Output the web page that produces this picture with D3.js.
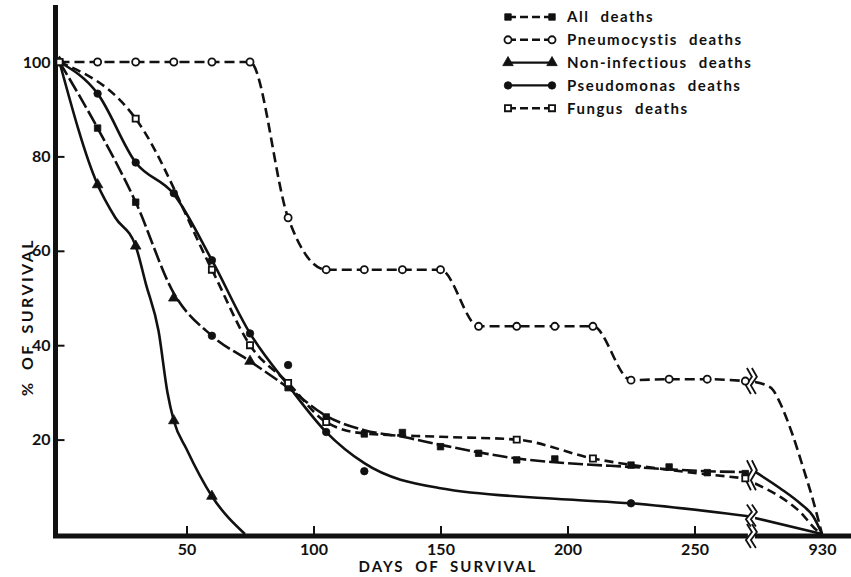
<!DOCTYPE html>
<html>
<head>
<meta charset="utf-8">
<script src="https://cdn.jsdelivr.net/npm/d3@7"></script>
<style>
  body { margin: 0; background: #fff; }
  text { font-family: Lato, "DejaVu Sans", sans-serif; font-weight: bold; fill: #111; }
</style>
</head>
<body>
<svg id="chart" width="851" height="577"></svg>
<script>
// ---- data (days, % surviving) ----
var xTicks = [50, 100, 150, 200, 250, 930];
var yTicks = [20, 40, 60, 80, 100];

// All deaths
var allDays = [0, 15, 30, 45, 60, 75, 90, 105, 120, 135, 150, 165, 180, 195, 225, 240, 255, 270];
var allPct = [100, 86, 70.3, 50, 42, 36.6, 31, 24.8, 21.2, 21.5, 18.5, 17.1, 15.7, 15.9, 14.6, 14.2, 13.0, 12.8];
var allShapes = ["square", "square", "square", "triangle", "circle", "triangle", "square", "square", "square",
  "square", "square", "square", "square", "square", "square", "square", "square", "square"];
var allCurveDays = [0, 15, 30, 45, 60, 75, 90, 105, 120, 135, 150, 165, 180, 195, 225, 255, 272];
var allCurvePct = [100, 86, 70.3, 51, 42, 36.6, 31, 25, 22, 20.6, 18.9, 17.3, 16, 15.2, 14.2, 13.3, 13.1];
var allTailDays = [314, 544, 728, 850, 930];
var allTailPct = [13.2, 9.7, 6.5, 3.7, 0];

// Pneumocystis deaths
var pneumoDays = [0, 15, 30, 45, 60, 75, 90, 105, 120, 135, 150, 165, 180, 195, 210, 225, 240, 255, 270];
var pneumoPct = [100, 100, 100, 100, 100, 100, 67, 56, 56, 56, 56, 44, 44, 44, 44, 32.6, 32.8, 32.8, 32.4];
var pneumoTailDays = [314, 406, 480, 544, 654, 755, 847, 930];
var pneumoTailPct = [32.2, 31.6, 30.5, 27.8, 21.4, 14.2, 7.2, 0];

// Non-infectious deaths
var nonInfDays = [0, 15, 30, 45, 60];
var nonInfPct = [100, 74, 61, 24, 8];
var nonInfCurveDays = [0, 15, 22, 30, 34, 39, 42.5, 45, 50, 60, 73];
var nonInfCurvePct = [100, 74, 67, 61, 53, 43, 30, 24, 18, 8, 0];

// Pseudomonas deaths
var pseudoDays = [0, 15, 30, 45, 60, 75, 90, 105, 120, 225];
var pseudoPct = [100, 93.3, 78.7, 72.2, 58, 42.5, 35.8, 21.6, 13.3, 6.5];
var pseudoCurveDays = [0, 15, 30, 45, 60, 75, 90, 105, 120, 150, 200, 225, 272];
var pseudoCurvePct = [100, 93.3, 78.7, 72, 58, 42.5, 31.5, 21.6, 15, 9.7, 7.3, 6.5, 3.7];
var pseudoTailDays = [314, 930];
var pseudoTailPct = [3.4, 0];

// Fungus deaths
var fungusDays = [0, 30, 60, 75, 90, 105, 180, 210, 270];
var fungusPct = [100, 88, 56, 40, 32, 23.7, 20, 16, 11.8];
var fungusCurveDays = [0, 30, 60, 75, 90, 105, 120, 150, 180, 210, 240, 270];
var fungusCurvePct = [100, 88, 56, 40, 32, 23.7, 21.3, 20.6, 20, 16, 13.6, 11.8];
var fungusTailDays = [314, 544, 728, 881, 930];
var fungusTailPct = [10.7, 7.9, 4.7, 0.8, 0];

function pairs(a, b) { return a.map(function (v, i) { return [v, b[i]]; }); }

var svg = d3.select("#chart");

// broken x axis: 0..272 linear, then a squeezed piece up to 930
var x = d3.scaleLinear().domain([0, 272, 930]).range([59.5, 750.4, 822]);
var y = d3.scaleLinear().domain([0, 100]).range([534, 62]);

var line = d3.line()
  .x(function (d) { return x(d[0]); })
  .y(function (d) { return y(d[1]); })
  .curve(d3.curveMonotoneX);

var series = [
  { name: "All deaths", curve: pairs(allCurveDays, allCurvePct), tail: pairs(allTailDays, allTailPct),
    marks: pairs(allDays, allPct), shapes: allShapes, shape: "square", open: false, dash: "15,4", tailDash: null },
  { name: "Pneumocystis deaths", curve: pairs(pneumoDays, pneumoPct), tail: pairs(pneumoTailDays, pneumoTailPct),
    marks: pairs(pneumoDays, pneumoPct), shape: "circle", open: true, dash: "10,5", tailDash: "10,5" },
  { name: "Non-infectious deaths", curve: pairs(nonInfCurveDays, nonInfCurvePct), tail: null,
    marks: pairs(nonInfDays, nonInfPct), shape: "triangle", open: false, dash: null },
  { name: "Pseudomonas deaths", curve: pairs(pseudoCurveDays, pseudoCurvePct), tail: pairs(pseudoTailDays, pseudoTailPct),
    marks: pairs(pseudoDays, pseudoPct), shape: "circle", open: false, dash: null, tailDash: null },
  { name: "Fungus deaths", curve: pairs(fungusCurveDays, fungusCurvePct), tail: pairs(fungusTailDays, fungusTailPct),
    marks: pairs(fungusDays, fungusPct), shape: "square", open: true, dash: "9,5", tailDash: "9,5" }
];

var symbolType = { square: d3.symbolSquare, circle: d3.symbolCircle, triangle: d3.symbolTriangle };
var symbolSize = { square: 42, circle: 44, triangle: 48 };

function drawSymbol(g, shape, open, px, py) {
  g.append("path")
    .attr("d", d3.symbol().type(symbolType[shape]).size(open ? symbolSize[shape] * 0.9 : symbolSize[shape])())
    .attr("transform", "translate(" + px + "," + py + ")")
    .attr("fill", open ? "#fff" : "#111")
    .attr("stroke", "#111")
    .attr("stroke-width", open ? 1.8 : 0.8);
}

// axes
var xAxis = d3.axisBottom(x).tickValues(xTicks).tickSizeInner(-10).tickSizeOuter(0).tickPadding(7.5);
var gx = svg.append("g").attr("transform", "translate(0,536)").call(xAxis);
gx.select(".domain").remove();
gx.selectAll(".tick line").attr("stroke", "#111").attr("stroke-width", 2)
  .filter(function (d) { return d > 272; }).remove();
gx.selectAll(".tick text").style("font-size", "16px").attr("fill", "#111");

var yAxis = d3.axisLeft(y).tickValues(yTicks).tickSizeInner(-9).tickSizeOuter(0).tickPadding(5);
var gy = svg.append("g").attr("transform", "translate(55.5,0)").call(yAxis);
gy.select(".domain").remove();
gy.selectAll(".tick line").attr("stroke", "#111").attr("stroke-width", 2);
gy.selectAll(".tick text").style("font-size", "16px").attr("fill", "#111");

svg.append("line").attr("x1", 55.5).attr("x2", 55.5).attr("y1", 5).attr("y2", 538)
  .attr("stroke", "#111").attr("stroke-width", 5);
svg.append("line").attr("x1", 53).attr("x2", 851).attr("y1", 536).attr("y2", 536)
  .attr("stroke", "#111").attr("stroke-width", 5);

svg.append("text").attr("x", 448).attr("y", 572).attr("text-anchor", "middle")
  .style("font-size", "15px").style("letter-spacing", "2px").style("word-spacing", "5px")
  .text("DAYS OF SURVIVAL");
svg.append("text").attr("transform", "translate(33,317) rotate(-90)").attr("text-anchor", "middle")
  .style("font-size", "16px").style("letter-spacing", "2.4px").style("word-spacing", "4px")
  .text("% OF SURVIVAL");

// curves
var lines = svg.append("g").attr("fill", "none").attr("stroke", "#111").attr("stroke-width", 2.6);
series.forEach(function (s) {
  lines.append("path").attr("d", line(s.curve)).attr("stroke-dasharray", s.dash);
  if (s.tail) lines.append("path").attr("d", line(s.tail)).attr("stroke-dasharray", s.tailDash);
});

// break marks on the axis and on the lines
var bx = x(272) + 0.5;
var breaks = [
  { cy: y(pneumoPct[pneumoPct.length - 1]), h: 26 },
  { cy: (y(allCurvePct[allCurvePct.length - 1]) + y(fungusPct[fungusPct.length - 1])) / 2, h: 30 },
  { cy: y(pseudoCurvePct[pseudoCurvePct.length - 1]) - 1, h: 22 },
  { cy: 536, h: 24 }
];
var gb = svg.append("g");
breaks.forEach(function (b) {
  gb.append("rect").attr("x", bx - 3).attr("y", b.cy - b.h / 2 + 3).attr("width", 7).attr("height", b.h - 6).attr("fill", "#fff");
  [0, 5].forEach(function (off) {
    var cx = bx - 2 + off;
    gb.append("path")
      .attr("d", "M" + (cx - 2) + "," + (b.cy - b.h / 2) + "L" + (cx + 3) + "," + (b.cy - b.h / 6) +
        "L" + (cx - 3) + "," + (b.cy + b.h / 6) + "L" + (cx + 2) + "," + (b.cy + b.h / 2))
      .attr("fill", "none").attr("stroke", "#111").attr("stroke-width", 1.8);
  });
});

// markers
var gm = svg.append("g");
series.forEach(function (s) {
  s.marks.forEach(function (d, i) {
    var shape = s.shapes ? s.shapes[i] : s.shape;
    drawSymbol(gm, shape, s.open, x(d[0]), y(d[1]));
  });
});

// legend
var lg = svg.append("g");
series.forEach(function (s, i) {
  var ly = 17 + i * 22.8;
  lg.append("line").attr("x1", 508).attr("x2", 552).attr("y1", ly).attr("y2", ly)
    .attr("stroke", "#111").attr("stroke-width", 2.4).attr("stroke-dasharray", s.dash ? "8,4" : null);
  drawSymbol(lg, s.shape, s.open, 508, ly);
  drawSymbol(lg, s.shape, s.open, 552, ly);
  lg.append("text").attr("x", 567).attr("y", ly).attr("dy", "0.36em")
    .style("font-size", "15px").style("letter-spacing", "1.5px").style("word-spacing", "6px")
    .text(s.name);
});
</script>
</body>
</html>
